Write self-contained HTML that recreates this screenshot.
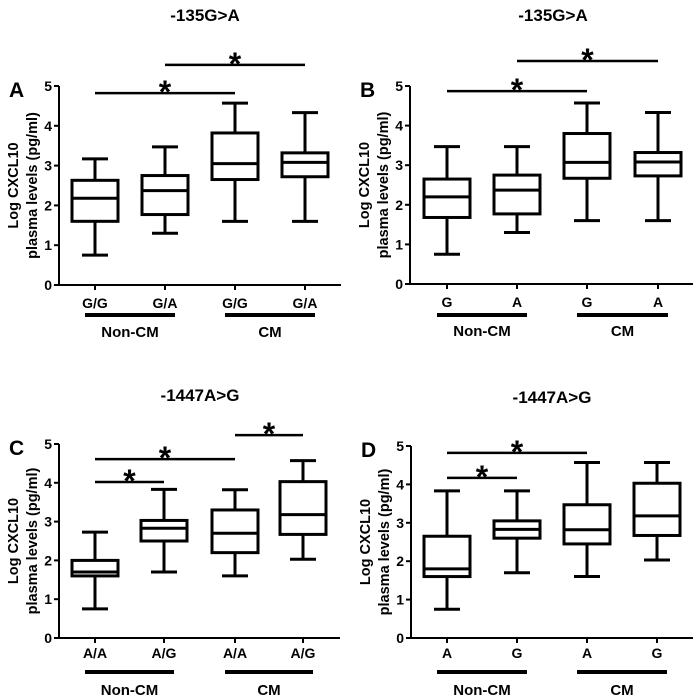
<!DOCTYPE html>
<html><head><meta charset="utf-8"><style>
body{margin:0;background:#fff;}
svg{display:block;font-family:"Liberation Sans",Arial,sans-serif;font-weight:bold;}
</style></head><body>
<svg id="fig" width="700" height="700" viewBox="0 0 700 700"></svg>
<script>
// Panel A data: [min, q1, median, q3, max]
const catsA = ["G/G","G/A","G/G","G/A"];
const boxesA = [[0.75,1.6,2.18,2.63,3.17],[1.3,1.77,2.37,2.75,3.47],[1.6,2.65,3.05,3.82,4.57],[1.6,2.72,3.08,3.32,4.33]];
const sigA = [[0,2,4.82],[1,3,5.53]];
const catsB = ["G","A","G","A"];
const boxesB = [[0.75,1.68,2.2,2.65,3.47],[1.3,1.77,2.37,2.75,3.47],[1.6,2.67,3.07,3.8,4.57],[1.6,2.73,3.08,3.32,4.33]];
const sigB = [[0,2,4.87],[1,3,5.63]];
const catsC = ["A/A","A/G","A/A","A/G"];
const boxesC = [[0.75,1.6,1.7,2.0,2.73],[1.7,2.5,2.83,3.03,3.83],[1.6,2.2,2.7,3.3,3.82],[2.03,2.67,3.18,4.03,4.57]];
const sigC = [[0,1,4.02],[0,2,4.61],[2,3,5.23]];
const catsD = ["A","G","A","G"];
const boxesD = [[0.75,1.6,1.8,2.65,3.83],[1.7,2.6,2.83,3.05,3.83],[1.6,2.45,2.82,3.47,4.57],[2.03,2.67,3.18,4.03,4.57]];
const sigD = [[0,1,4.17],[0,2,4.82]];
const yTicks = [0,1,2,3,4,5];
const groups = ["Non-CM","CM"];

const NS="http://www.w3.org/2000/svg";
const svg=document.getElementById('fig');
function mk(tag,attrs,parent,text){const e=document.createElementNS(NS,tag);for(const k in attrs)e.setAttribute(k,attrs[k]);if(text!==undefined)e.textContent=text;parent.appendChild(e);return e;}

const panels=[
 {id:'a',letter:'A',title:'-135G>A',cats:catsA,boxes:boxesA,sig:sigA,ax:59,y0:285,y5:86,xc:[95,165,235,305],xEnd:341,tx:205,ty:21,lab:18,ul:30,gl:47},
 {id:'b',letter:'B',title:'-135G>A',cats:catsB,boxes:boxesB,sig:sigB,ax:410,y0:284,y5:86,xc:[447,517,587,658],xEnd:693,tx:553,ty:21,lab:18,ul:31,gl:47},
 {id:'c',letter:'C',title:'-1447A>G',cats:catsC,boxes:boxesC,sig:sigC,ax:59,y0:638,y5:444,xc:[95,164,235,303],xEnd:340,tx:200,ty:401,lab:15,ul:34,gl:52},
 {id:'d',letter:'D',title:'-1447A>G',cats:catsD,boxes:boxesD,sig:sigD,ax:411,y0:638,y5:446,xc:[447,517,587,657],xEnd:693,tx:552,ty:403,lab:15,ul:34,gl:52}
];

panels.forEach(p=>{
 const g=mk('g',{},svg);
 
 
 const y=v=>p.y0-(p.y0-p.y5)*v/5;
 const t=mk('text',{x:p.tx,y:p.ty,'text-anchor':'middle','font-size':17},g,p.title);
 
 
 const l=mk('text',{x:p.ax-50,y:y(5)+11,'font-size':21},g,p.letter);
 
 
 const yl=mk('text',{transform:`translate(${p.ax-41},${(p.y0+p.y5)/2}) rotate(-90)`,'text-anchor':'middle','font-size':14.5},g);
 
 
 mk('tspan',{x:0,dy:0},yl,'Log CXCL10');
 mk('tspan',{x:0,dy:19},yl,'plasma levels (pg/ml)');
 const axY=mk('line',{x1:p.ax,y1:y(5),x2:p.ax,y2:p.y0,stroke:'#000','stroke-width':2},g);
 
 
 const axX=mk('line',{x1:p.ax,y1:p.y0,x2:p.xEnd,y2:p.y0,stroke:'#000','stroke-width':2},g);
 
 
 yTicks.forEach(v=>{
  mk('line',{x1:p.ax-5,y1:y(v),x2:p.ax,y2:y(v),stroke:'#000','stroke-width':2},g);
  const tl=mk('text',{x:p.ax-7,y:y(v)+5,'text-anchor':'end','font-size':14},g,String(v));
  
  
 });
 p.boxes.forEach((b,i)=>{
  const cx=p.xc[i],w=46,cw=26;
  const bg=mk('g',{stroke:'#000','stroke-width':3,fill:'none'},g);
  
  
  mk('line',{x1:cx,y1:y(b[0]),x2:cx,y2:y(b[1])},bg);
  mk('line',{x1:cx,y1:y(b[3]),x2:cx,y2:y(b[4])},bg);
  mk('line',{x1:cx-cw/2,y1:y(b[0]),x2:cx+cw/2,y2:y(b[0])},bg);
  mk('line',{x1:cx-cw/2,y1:y(b[4]),x2:cx+cw/2,y2:y(b[4])},bg);
  mk('rect',{x:cx-w/2,y:y(b[3]),width:w,height:y(b[1])-y(b[3]),fill:'#fff'},bg);
  mk('line',{x1:cx-w/2,y1:y(b[2]),x2:cx+w/2,y2:y(b[2])},bg);
  mk('line',{x1:cx,y1:p.y0,x2:cx,y2:p.y0+5,'stroke-width':2},bg);
  const cl=mk('text',{x:cx,y:p.y0+p.lab+5,'text-anchor':'middle','font-size':14},g,p.cats[i]);
  
  
 });
 groups.forEach((gn,k)=>{
  const x1=p.xc[2*k]-10,x2=p.xc[2*k+1]+10;
  const ul=mk('line',{x1:x1,y1:p.y0+p.ul,x2:x2,y2:p.y0+p.ul,stroke:'#000','stroke-width':4},g);
  
  
  const gt=mk('text',{x:(x1+x2)/2,y:p.y0+p.gl+5,'text-anchor':'middle','font-size':15},g,gn);
  
  
 });
 p.sig.forEach(s=>{
  const x1=p.xc[s[0]],x2=p.xc[s[1]],yy=y(s[2]);
  const sl=mk('line',{x1:x1,y1:yy,x2:x2,y2:yy,stroke:'#000','stroke-width':2.5},g);
  
  
  const st=mk('text',{x:(x1+x2)/2,y:yy+10,'text-anchor':'middle','font-size':32},g,'*');
  
  
 });
});
</script>
</body></html>
